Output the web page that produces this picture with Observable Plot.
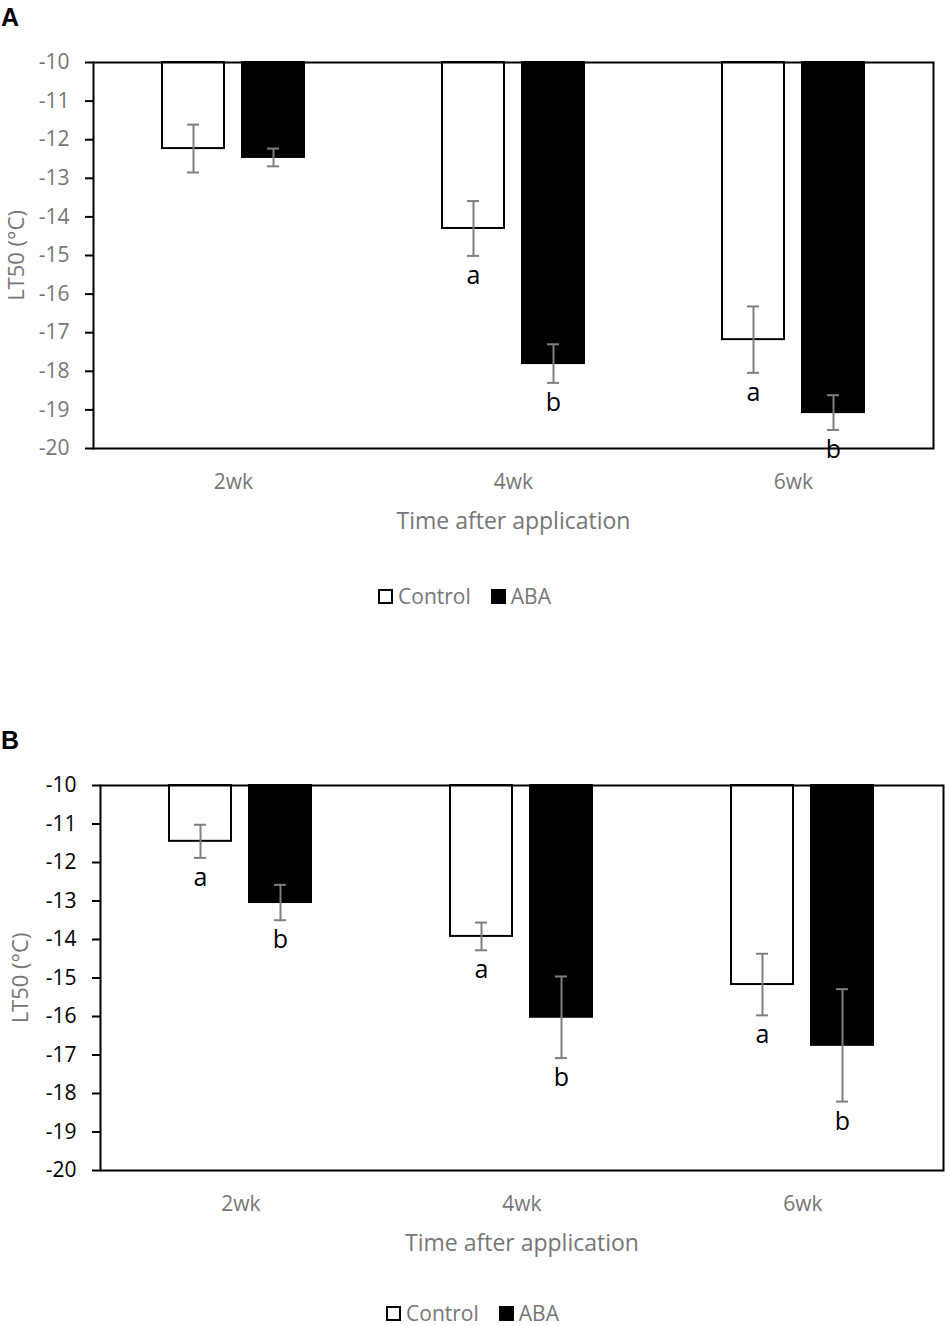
<!DOCTYPE html>
<html><head><meta charset="utf-8">
<script src="https://cdn.jsdelivr.net/npm/d3@7"></script>
<script src="https://cdn.jsdelivr.net/npm/@observablehq/plot@0.6"></script>
<style>
body{margin:0;background:#fff;width:945px;height:1326px;position:relative;overflow:hidden;font-family:"Open Sans",sans-serif}
.panel-letter{position:absolute;left:1px;font:bold 25px "Liberation Sans",Arial,sans-serif;color:#000;line-height:1;z-index:5}
.chart{position:absolute;left:0;z-index:1}
.legend{position:absolute;left:0;width:945px;display:flex;justify-content:center;align-items:center;font-size:21px;color:#767676;line-height:1;z-index:2}
.legend .item{display:flex;align-items:center;margin:0 10px}
.legend .sw{display:inline-block;width:15px;height:15px;border:2px solid #000;box-sizing:border-box;margin-right:5px}
g[aria-label="y-axis label"] text, g[aria-label="y-axis label"]{font-size:22px}
g[aria-label="fx-axis label"] text, g[aria-label="fx-axis label"]{font-size:23px}
</style></head><body>
<script>
// ---- data ----
const timepoints = ["2wk", "4wk", "6wk"];
const treatments = ["Control", "ABA"];
const treatmentColors = ["white", "black"];
const yTicks = [-10, -11, -12, -13, -14, -15, -16, -17, -18, -19, -20];

// Panel A
const aControl = [-12.23, -14.30, -17.18];
const aControlErr = [0.62, 0.71, 0.86];
const aABA = [-12.46, -17.80, -19.07];
const aABAErr = [0.23, 0.50, 0.45];
const aControlLetters = ["", "a", "a"];
const aABALetters = ["", "b", "b"];

// Panel B
const bControl = [-11.45, -13.92, -15.17];
const bControlErr = [0.43, 0.36, 0.80];
const bABA = [-13.04, -16.02, -16.75];
const bABAErr = [0.46, 1.06, 1.46];
const bControlLetters = ["a", "a", "a"];
const bABALetters = ["b", "b", "b"];

function rowsOf(ctrl, ctrlErr, aba, abaErr, ctrlLet, abaLet) {
  const rows = [];
  timepoints.forEach((t, i) => {
    rows.push({time: t, treatment: "Control", value: ctrl[i], err: ctrlErr[i], letter: ctrlLet[i]});
    rows.push({time: t, treatment: "ABA", value: aba[i], err: abaErr[i], letter: abaLet[i]});
  });
  return rows;
}

function chart(rows, o) {
  const lo = d => d.value - d.err, hi = d => d.value + d.err;
  return Plot.plot({
    width: 945, height: 545,
    marginTop: 62, marginBottom: o.marginBottom, marginLeft: o.marginLeft, marginRight: o.marginRight,
    style: {fontFamily: "'Open Sans', sans-serif", fontSize: "20px", background: "white", color: "black"},
    fx: {domain: timepoints, padding: 0},
    x: {domain: treatments, paddingInner: 0.22, paddingOuter: 0.85, axis: null},
    y: {domain: [-20, -10]},
    color: {domain: treatments, range: treatmentColors},
    marks: [
      Plot.barY(rows, {fx: "time", x: "treatment", y1: -10, y2: "value", fill: "treatment", stroke: "black", strokeWidth: 2}),
      Plot.ruleX(rows, {fx: "time", x: "treatment", y1: lo, y2: hi, stroke: "#7f7f7f", strokeWidth: 2}),
      Plot.tickY(rows, {fx: "time", x: "treatment", y: lo, insetLeft: 25, insetRight: 25, stroke: "#7f7f7f", strokeWidth: 2}),
      Plot.tickY(rows, {fx: "time", x: "treatment", y: hi, insetLeft: 25, insetRight: 25, stroke: "#7f7f7f", strokeWidth: 2}),
      Plot.text(rows.filter(d => d.letter), {fx: "time", x: "treatment", y: lo, text: "letter", dy: 20, fontSize: 25, fill: "black", lineAnchor: "middle"}),
      Plot.ruleY([-10, -20], {stroke: "black", strokeWidth: 2}),
      Plot.frame({anchor: "left", facetAnchor: "left", stroke: "black", strokeWidth: 2}),
      Plot.frame({anchor: "right", facetAnchor: "right", stroke: "black", strokeWidth: 2}),
      Plot.axisY({ticks: yTicks, tickFormat: d => String(d), tickSize: 8, tickPadding: 16, fontSize: 21,
        color: o.tickColor, stroke: "black", strokeWidth: 2,
        label: "LT50 (°C)", labelArrow: "none", labelAnchor: "center", labelOffset: o.labelOffset}),
      Plot.axisFx({anchor: "bottom", tickSize: 0, tickPadding: 26, fontSize: 21, color: "#767676",
        label: "Time after application", labelAnchor: "center", labelOffset: 80})
    ]
  });
}

function legend(top) {
  const div = document.createElement("div");
  div.className = "legend";
  div.style.top = top + "px";
  treatments.forEach((t, i) => {
    const item = document.createElement("span");
    item.className = "item";
    const sw = document.createElement("span");
    sw.className = "sw";
    sw.style.background = treatmentColors[i];
    item.appendChild(sw);
    item.appendChild(document.createTextNode(t));
    div.appendChild(item);
  });
  return div;
}

function panel(letter, top, rows, o) {
  const c = chart(rows, o);
  const wrap = document.createElement("div");
  wrap.className = "chart";
  wrap.style.top = top + "px";
  wrap.appendChild(c);
  document.body.appendChild(wrap);
  const l = document.createElement("div");
  l.className = "panel-letter";
  l.style.top = (top + 5) + "px";
  l.textContent = letter;
  document.body.appendChild(l);
  const lg = legend(top + o.legendTop);
  lg.style.left = o.legendShift + "px";
  document.body.appendChild(lg);
  c.querySelectorAll('g[aria-label="y-axis label"]').forEach(g => { g.setAttribute("fill", "#767676"); });
}

panel("A", 0, rowsOf(aControl, aControlErr, aABA, aABAErr, aControlLetters, aABALetters),
  {marginLeft: 92, marginRight: 11, marginBottom: 97, tickColor: "#767676", labelOffset: 85, legendTop: 586, legendShift: -8});
panel("B", 723, rowsOf(bControl, bControlErr, bABA, bABAErr, bControlLetters, bABALetters),
  {marginLeft: 100, marginRight: 2, marginBottom: 98, tickColor: "black", labelOffset: 88, legendTop: 580, legendShift: 0});
</script>
</body></html>
